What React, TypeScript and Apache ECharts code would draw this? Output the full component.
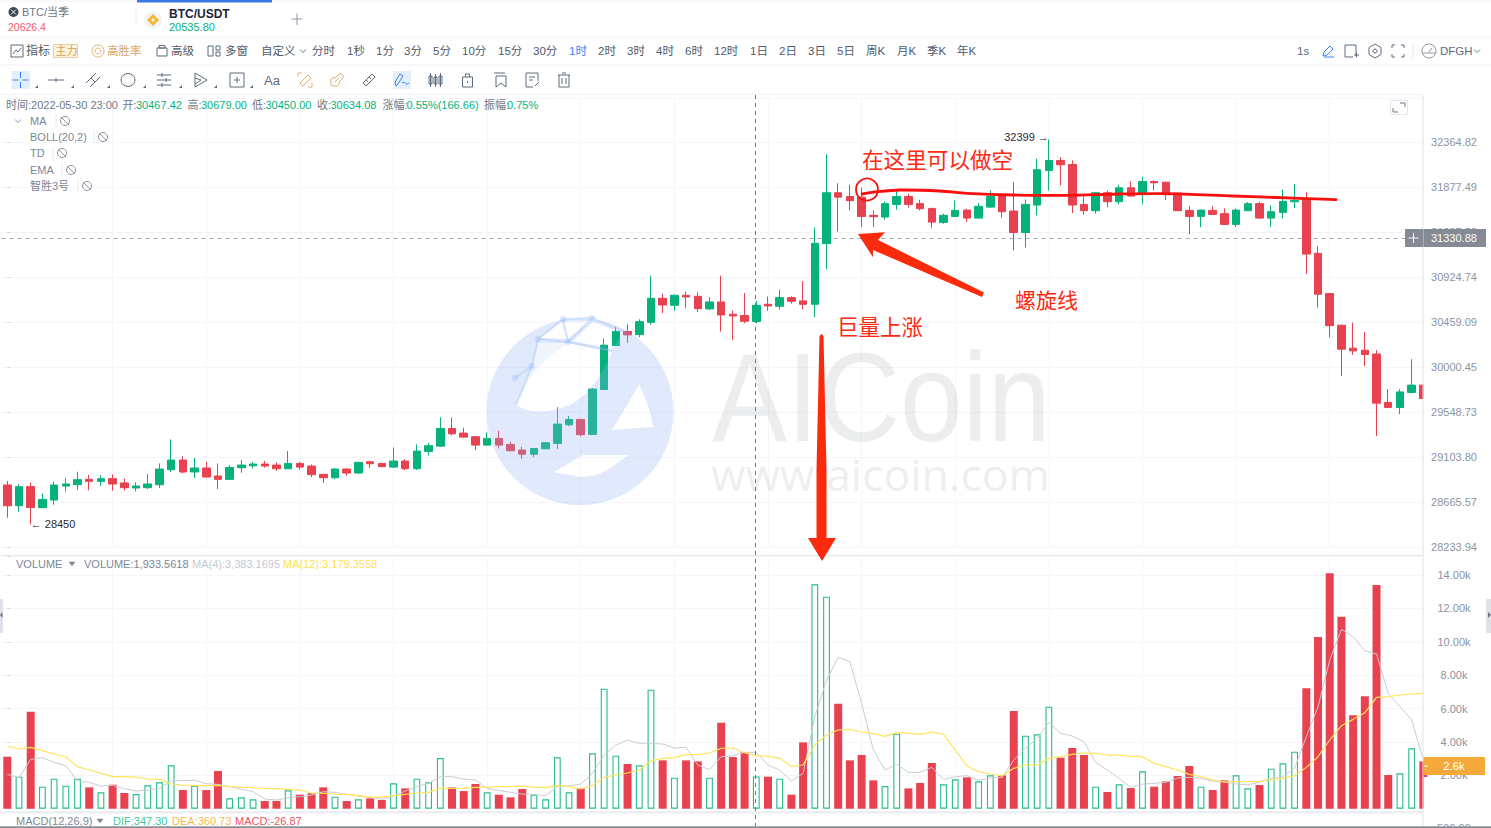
import React, { useEffect, useRef } from "react";
import * as echarts from "echarts";

const opens = [
  28831,28630,28815,28611,28685,28821,28834,28886,28867,28893,
  28851,28802,28805,28834,28980,29075,28958,28997,28919,28886,
  29000,29019,29036,29026,28990,29042,29016,28935,28902,28987,
  28948,29058,29042,29006,29065,28990,29160,29212,29387,29341,
  29305,29222,29288,29229,29173,29133,29186,29239,29423,29476,
  29328,29776,30221,30364,30333,30459,30707,30635,30738,30728,
  30597,30669,30542,30528,30467.42,30645,30625,30714,30680,30645,
  31279,31821,31781,31774,31579,31561,31696,31781,31704,31653,
  31504,31568,31635,31550,31667,31785,31625,31397,31689,32062,
  32170,32126,31696,31629,31821,31725,31874,31803,31942,31935,
  31817,31632,31568,31632,31597,31483,31629,31704,31550,31611,
  31725,31757,31177,30756,30429,30194,30174,30135,29646,29596,
  29746,29820,
];
const closes = [
  28630,28815,28614,28691,28831,28841,28883,28867,28893,28841,
  28805,28821,28841,28987,29075,28958,28997,28909,28886,29003,
  29026,29036,29016,28990,29042,29006,28932,28902,28987,28948,
  29052,29039,29010,29065,28990,29163,29216,29387,29334,29301,
  29222,29288,29222,29166,29133,29189,29245,29430,29476,29325,
  29780,30225,30364,30330,30466,30707,30638,30738,30721,30600,
  30669,30535,30525,30470,30634.08,30628,30714,30676,30645,31282,
  31821,31774,31736,31568,31565,31704,31781,31696,31650,31507,
  31579,31632,31550,31675,31781,31618,31397,31696,32069,32170,
  32123,31689,31629,31821,31725,31874,31785,31942,31928,31800,
  31629,31568,31635,31589,31483,31635,31704,31550,31618,31728,
  31739,31169,30749,30425,30184,30167,30130,29639,29596,29752,
  29820,29686,
];
const lows = [
  28515,28570,28450,28608,28640,28766,28786,28779,28824,28776,
  28776,28769,28792,28802,28958,28945,28899,28905,28792,28880,
  28951,28993,29000,28967,28987,28980,28909,28851,28889,28922,
  28938,28997,29006,28997,28977,28977,29120,29206,29318,29295,
  29173,29219,29189,29163,29088,29104,29183,29186,29410,29308,
  29325,29773,30218,30248,30306,30432,30555,30580,30604,30566,
  30587,30364,30279,30449,30450,30576,30590,30652,30594,30511,
  31009,31408,31632,31454,31454,31533,31640,31661,31632,31447,
  31490,31560,31507,31547,31660,31554,31208,31237,31579,31845,
  31899,31603,31586,31597,31667,31696,31780,31699,31845,31742,
  31625,31380,31454,31582,31480,31454,31625,31547,31454,31544,
  31657,30963,30611,30303,29910,30126,30011,29311,29589,29529,
  29736,29680,
];
const highs = [
  28870,28838,28854,28750,28864,28899,28961,28928,28928,28935,
  28893,28857,28938,29042,29278,29113,29097,29058,29042,29026,
  29075,29058,29068,29052,29163,29058,29032,28938,28993,28993,
  29058,29068,29049,29199,29084,29229,29245,29496,29496,29394,
  29311,29348,29364,29255,29206,29193,29252,29599,29512,29483,
  29790,30293,30412,30439,30490,30942,30756,30749,30776,30769,
  30718,30942,30580,30762,30679,30725,30797,30728,30887,31451,
  32235,31924,31907,31874,31632,31728,31838,31810,31746,31660,
  31597,31739,31650,31710,31845,31790,31935,31749,32188,32399,
  32206,32170,31781,31827,31845,31907,31946,31993,31953,31938,
  31824,31678,31640,31678,31653,31653,31721,31725,31685,31856,
  31917,31827,31250,30762,30436,30456,30360,30174,29780,29780,
  30082,29825,
];
const volumes = [
  3115,1917,5811,1318,1797,1378,1797,1278,979,1438,
  939,879,1398,1578,2596,1118,1378,1118,2257,619,
  679,559,459,459,1098,839,919,1278,719,459,
  559,619,519,1518,1218,1797,1578,3035,1278,1058,
  1478,979,839,679,1178,839,559,3075,979,1218,
  3315,7189,3175,2676,2596,7129,2896,1857,2896,2836,
  1857,5152,3095,3375,1933.56,1917,1797,839,3974,13440,
  12701,6291,2896,3215,1697,1358,4493,1218,1538,2736,
  1458,1757,1877,1638,1997,1997,5851,4373,4453,6111,
  3055,3635,3215,1318,999,1458,1238,2237,1318,1638,
  1957,2556,1318,1118,1697,1997,1218,1418,2396,2716,
  3415,7209,10285,14099,11503,5592,6730,13400,2017,2117,
  3615,2836,
];
const volumeMa4 = [
  2057,1857,2956,3055,2776,2576,1658,1578,1358,1398,
  1198,1058,1118,1218,1658,1698,1698,1498,1458,1318,
  1178,1019,579,519,659,719,819,1019,979,859,
  759,679,559,759,1058,1318,1518,1917,1917,1777,
  1717,1218,1098,979,879,859,779,1358,1358,1478,
  2117,3215,3814,4114,3914,3914,3874,3635,3675,2616,
  2336,3115,3175,3375,3383.17,2616,2316,1657,2117,5512,
  7708,9066,8807,6311,3515,2316,2656,2177,2177,2476,
  1757,1917,1977,1697,1837,1877,2916,3615,4214,5172,
  4513,4353,4014,2776,2316,1817,1278,1478,1518,1578,
  1837,1877,1817,1658,1598,1478,1438,1578,1817,1917,
  2416,4313,6111,8907,10744,10305,9466,9266,6910,6111,
  5312,2916,
];
const volumeMa12 = [
  3754,3575,3675,3475,3275,3095,2516,2316,2117,1917,
  1917,1897,1777,1757,1478,1418,1398,1378,1398,1338,
  1298,1258,1218,1198,1158,1118,939,919,879,859,
  779,699,699,779,859,939,979,1218,1218,1238,
  1278,1298,1318,1318,1358,1298,1258,1378,1318,1178,
  1378,1877,2017,2137,2316,2876,3015,3055,3235,3235,
  3335,3615,3635,3355,3179.36,3135,3015,2536,2616,3814,
  4413,4713,4753,4593,4493,4333,4553,4513,4453,4593,
  4453,3515,2556,2217,2077,1957,2416,2616,2616,3015,
  3115,3255,3335,3315,3215,3215,3155,3115,2716,2516,
  2317,2057,1917,1717,1598,1618,1618,1638,1757,1817,
  1977,2476,3115,4114,4973,5352,5751,6670,6710,6810,
  6870,6910,
];
const priceTicks = ["28233.94","28665.57","29103.80","29548.73","30000.45","30459.09","30924.74","31397.50","31877.49","32364.82"];
const gridIndexes = [9,17,25,33,41,49,57,65,73,81,89,97,105,113,121];
const crosshairPrice = 31330.88;
const highMark = { index: 89, price: 32399 };
const lowMark = { index: 2, price: 28450 };
const periods: [string, number][] = [["分时",312],["1秒",347],["1分",376],["3分",404],["5分",433],["10分",462],["15分",498],["30分",533],["2时",598],["3时",627],["4时",656],["6时",685],["12时",714],["1日",750],["2日",779],["3日",808],["5日",837],["周K",866],["月K",897],["季K",927],["年K",957]];

const GREEN = "#05b27c";
const RED = "#e8414f";
const ANNOT = "#fb2a12";
const FONT = '"Liberation Sans","Noto Sans CJK SC",sans-serif';
const LOG_MIN = 28233.94;
const LOG_BASE = Math.exp(Math.log(LOG_MIN) / 675);
const LOG_MAX = LOG_MIN * Math.pow(LOG_BASE, 9.99);
const LOGO_BLUE = "rgba(140,178,245,0.27)";

const iconPaths: Record<string, string> = {
  lineBox: "M-6 -6H6V6H-6Z M-4 3L-1 -1L1 1L4 -3",
  gauge: "M0 -6A6 6 0 1 1 -0.01 -6Z M0 -3A3 3 0 1 1 -0.01 -3Z",
  adv: "M-5 -3H5V5H-5Z M-3 -5.5H3V-3H-3Z",
  windows: "M-6 -5H-1V5H-6Z M2 -5H6V-1H2Z M2 1H6V5H2Z",
  pencil: "M-5 5L-4 1L2 -5L5 -2L-1 4Z M-4 6H6",
  frame: "M-6 -6H5V5 M-6 -6V6 M2 6H-6 M3 4H8 M5.5 1.5V6.5",
  hex: "M0 -7L6 -3.5V3.5L0 7L-6 3.5V-3.5Z M0 -2A2 2 0 1 1 -0.01 -2Z",
  expand: "M-6 -3V-6H-3 M3 -6H6V-3 M6 3V6H3 M-3 6H-6V3",
  cloud: "M0 -7A7 7 0 1 1 -0.01 -7Z M-6 2H6 M0 1L3 -3",
  cross: "M0 -8V-2 M0 2V8 M-8 0H-2 M2 0H8",
  hline: "M-8 0H8 M0 -2V2",
  slash: "M-7 3L3 -7 M-3 7L7 -3 M-2 -2L2 2",
  ellipse: "M-7 0A7 6.5 0 1 1 7 0A7 6.5 0 1 1 -7 0Z",
  tri: "M-7 -5H7 M-7 0H7 M-7 5H7 M-2 -7V-3 M2 -2V2 M-2 3V7",
  play: "M-6 -7L6 0L-6 7Z M-6 -2L0 0L-6 4",
  boxPlus: "M-7 -7H7V7H-7Z M-3 0H3 M0 -3V3",
  ruler1: "M-5 3L3 -5L6 -2L-2 6Z M-7 -7H-3 M-7 -7V-3 M7 7H3 M7 7V3",
  ruler2: "M-6 2A3 3 0 0 1 -2 -2L2 -6A3 3 0 0 1 6 -2L2 2A3 3 0 0 1 -2 6A3 3 0 0 1 -6 2Z M-2 2L2 -2",
  ruler3: "M-6 3L3 -6L6 -3L-3 6Z M-3 0L-1 2 M0 -3L2 -1",
  draw: "M-6 6L-7 2L-2 -6L1 -4L-4 4Z M0 3C3 0 3 6 7 3",
  candles: "M-6 -4H-3V4H-6Z M-4.5 -7V7 M-1 -3H2V4H-1Z M0.5 -6V7 M4 -4H7V4H4Z M5.5 -7V7",
  lock: "M-5 -3H5V7H-5Z M-2 -3V-6H2V-3 M0 1V3",
  marks: "M-6 -7H5 M-4 -4H6V7L1 3L-4 7Z",
  edit: "M-6 -7H6V1 M-6 -7V7H1 M-3 -3H3 M-3 0H1 M3 6L7 2",
  trash: "M-6 -5H6 M-2 -7H2 M-5 -5V7H5V-5 M-2 -2V4 M2 -2V4",
};
Object.keys(iconPaths).forEach((k) => echarts.graphic.registerShape("ic_" + k, echarts.graphic.extendPath(iconPaths[k], {})));

const LOGO =
  "M486.5 411.7A93.5 93.5 0 1 1 673.5 411.7A93.5 93.5 0 1 1 486.5 411.7Z" +
  "M538 343L532 367L516 405Q536 418 570 405Q595 392 612 352L568 343Z" +
  "M561.7 321.7L540 338L567 339Z" +
  "M563 322L568 339L590 321Z" +
  "M593 322L573 341L612 349L623 333Z" +
  "M639 385L612 430L653 427Q650 405 639 385Z" +
  "M554 472L580 477Q595 477 607 470L629 455L583 455Z";
echarts.graphic.registerShape("aicoinLogo", echarts.graphic.extendPath(LOGO, {}));

function T(x: number, y: number, text: string, fill: string, size = 11.5, extra: any = {}) {
  const { z, scaleX, ...style } = extra;
  return {
    type: "text", x, y, silent: true, z: z ?? 60, scaleX: scaleX ?? 1,
    style: { text, fill, fontSize: size, fontFamily: FONT, verticalAlign: "middle", align: "left", ...style },
  };
}
function I(name: string, x: number, y: number, stroke = "#5f6b7d", scale = 1) {
  return { type: "ic_" + name, x, y, scaleX: scale, scaleY: scale, silent: true, z: 60, style: { stroke, fill: "none", lineWidth: 1 } };
}
function R(x: number, y: number, w: number, h: number, fill: string, z = 60, stroke?: string) {
  return { type: "rect", silent: true, z, shape: { x, y, width: w, height: h }, style: { fill, stroke: stroke ?? "none" } };
}
function L(x1: number, y1: number, x2: number, y2: number, stroke: string, lineWidth = 1, z = 60, lineDash?: number[]) {
  return { type: "line", silent: true, z, shape: { x1, y1, x2, y2 }, style: { stroke, lineWidth, lineDash } };
}
function Tri(cx: number, cy: number, s: number, fill: string) {
  return { type: "polygon", silent: true, z: 60, shape: { points: [[cx - s, cy - s / 2], [cx + s, cy - s / 2], [cx, cy + s / 2 + 1]] }, style: { fill } };
}
function Chev(cx: number, cy: number, stroke = "#6b7585") {
  return { type: "polyline", silent: true, z: 60, shape: { points: [[cx - 3, cy - 1.5], [cx, cy + 1.5], [cx + 3, cy - 1.5]] }, style: { stroke, fill: "none", lineWidth: 1 } };
}
function Corner(x: number) {
  return { type: "polygon", silent: true, z: 60, shape: { points: [[x + 3, 85], [x + 3, 88], [x, 88]] }, style: { fill: "#5f6b7d" } };
}
function Net(points: number[][]) {
  return { type: "polyline", silent: true, z: 50, shape: { points }, style: { stroke: LOGO_BLUE, lineWidth: 2.2, fill: "none" } };
}
function Node(cx: number, cy: number) {
  return { type: "circle", silent: true, z: 50, shape: { cx, cy, r: 3.4 }, style: { fill: LOGO_BLUE } };
}

function buildGraphics(): any[] {
  const SEP = "#f1f2f7";
  const G: any[] = [];
  G.push(
    L(0, 1, 1491, 1, SEP, 1), L(0, 37, 1491, 37, SEP, 1.2), L(0, 65, 1491, 65, SEP, 1.2), L(0, 94.5, 1423, 94.5, SEP, 1.2),
    L(0, 555.5, 1423, 555.5, "#e6e8ed", 1), L(1423, 95, 1423, 828, "#dfe2e8", 1), R(0, 811, 1423, 2.4, "#eceef2"),
    R(0, 826.2, 1491, 1.8, "#8a8f99"), R(1486, 599, 5, 34, "#dfe2e8"), R(0, 599, 3, 34, "#dfe2e8"),
    { type: "polygon", silent: true, z: 61, shape: { points: [[1488, 612], [1491, 615], [1488, 618]] }, style: { fill: "#6b7585" } },
    { type: "polygon", silent: true, z: 61, shape: { points: [[2.5, 612], [0, 615], [2.5, 618]] }, style: { fill: "#6b7585" } },
    R(137, 0, 135, 2.4, "#3b78e7"), L(136, 10, 136, 24, "#e8eaee", 1),
    // the last candle and bar are cut by the pane's right edge
    R(1423.6, 380, 6, 22, "#fff", 30), R(1423.6, 777, 6, 33, "#fff", 30),
  );
  // tabs
  G.push(
    { type: "circle", silent: true, z: 60, shape: { cx: 13.5, cy: 12, r: 5 }, style: { fill: "#3e4654" } },
    L(11, 9.5, 16, 14.5, "#fff", 1), L(16, 9.5, 11, 14.5, "#fff", 1),
    T(22, 12, "BTC/当季", "#6d7787", 11), T(8, 27, "20626.4", "#f4606c", 10.5),
    { type: "circle", silent: true, z: 60, shape: { cx: 153, cy: 20, r: 9 }, style: { fill: "#f2f3f6" } },
    { type: "polygon", silent: true, z: 60, shape: { points: [[153, 14], [159, 20], [153, 26], [147, 20]] }, style: { fill: "#f3ba2f" } },
    { type: "polygon", silent: true, z: 61, shape: { points: [[153, 18], [155, 20], [153, 22], [151, 20]] }, style: { fill: "#f2f3f6" } },
    T(169, 14, "BTC/USDT", "#1c2536", 12, { fontWeight: 600 }), T(169, 27, "20535.80", GREEN, 11),
    L(297, 13.5, 297, 25, "#8d95a3", 1), L(291.5, 19, 302.5, 19, "#8d95a3", 1),
  );
  // toolbar row 1
  G.push(
    I("lineBox", 17, 51), T(26, 51, "指标", "#4f5a6b", 12),
    R(53.5, 44.5, 24, 13, "#fdf3e3", 60, "#eccc9c"), T(55.5, 51, "主力", "#e0a24e", 11),
    I("gauge", 98, 51, "#e3b679"), T(107, 51, "高胜率", "#d9a45f", 11.5),
    I("adv", 162, 51), T(171, 51, "高级", "#4f5a6b", 11.5),
    I("windows", 214, 51), T(225, 51, "多窗", "#4f5a6b", 11.5),
    T(261, 51, "自定义", "#4f5a6b", 11.5), Chev(303, 51),
    T(569, 51, "1时", "#3b82f6", 11.5),
    T(1297, 51, "1s", "#5f6b7d", 11.5),
    I("pencil", 1328, 51, "#3b82f6"), I("frame", 1351, 51), I("hex", 1375, 51), I("expand", 1398, 51),
    L(1413, 44, 1413, 58, "#e6e8ed", 1), I("cloud", 1429, 51, "#8d95a3"), T(1440, 51, "DFGH", "#5f6b7d", 11.5), Chev(1477, 51),
  );
  periods.forEach(([t, x]) => G.push(T(x, 51, t, "#4f5a6b", 11.5)));
  // toolbar row 2
  G.push(R(11.5, 71, 18.5, 18, "#e3effd"), R(393, 71, 18, 18, "#e3effd"));
  G.push(
    I("cross", 20.5, 80, "#3b82f6"), I("hline", 56, 80), I("slash", 93, 80), I("ellipse", 128, 80), I("tri", 164, 80),
    I("play", 201, 80), I("boxPlus", 237, 80), T(264, 80, "Aa", "#5f6b7d", 13),
    I("ruler1", 305, 80, "#e0b070"), I("ruler2", 337, 80, "#e0b070"), I("ruler3", 369, 80), I("draw", 402, 80, "#3b82f6"),
    I("candles", 435, 80), I("lock", 467.5, 80), I("marks", 500, 80), I("edit", 532, 80), I("trash", 564, 80),
    Corner(35), Corner(71), Corner(107), Corner(143), Corner(179), Corner(214), Corner(250),
  );
  // info row
  const grey = "#6d7787";
  G.push(
    T(6, 105, "时间:2022-05-30 23:00", grey, 11), T(122.5, 105, "开:", grey, 11), T(136, 105, "30467.42", GREEN, 11),
    T(187.5, 105, "高:", grey, 11), T(201, 105, "30679.00", GREEN, 11), T(252, 105, "低:", grey, 11), T(265.5, 105, "30450.00", GREEN, 11),
    T(317, 105, "收:", grey, 11), T(330.5, 105, "30634.08", GREEN, 11), T(382.5, 105, "涨幅:", grey, 11), T(406.5, 105, "0.55%(166.66)", GREEN, 11),
    T(484, 105, "振幅:", grey, 11), T(507, 105, "0.75%", GREEN, 11),
  );
  G.push(Chev(18, 121, "#8d95a3"));
  const indicators: [string, number, number, number][] = [["MA", 30, 121, 65], ["BOLL(20,2)", 30, 137, 103], ["TD", 30, 153, 62], ["EMA", 30, 170, 71], ["智胜3号", 30, 186, 87]];
  indicators.forEach(([t, x, y, ex]) => {
    G.push(T(x, y, t, "#7d8695", 11, { z: 60 }), L(ex - 9, y - 6, ex - 9, y + 6, "#e6e8ed", 1));
    G.push({ type: "circle", silent: true, z: 60, shape: { cx: ex, cy: y, r: 4.5 }, style: { stroke: "#8d95a3", fill: "none", lineWidth: 1 } }, L(ex - 4, y - 4, ex + 4, y + 4, "#8d95a3", 1));
  });
  // expand button
  G.push(R(1390.5, 100.5, 17, 14, "#fff", 60, "#e4e6ec"), L(1400, 103, 1405, 103, "#6b7585"), L(1405, 103, 1405, 107, "#6b7585"), L(1393, 108, 1393, 112, "#6b7585"), L(1393, 112, 1398, 112, "#6b7585"));
  // volume & macd legends
  G.push(
    T(16, 564, "VOLUME", "#7d8695", 11), Tri(72, 563.5, 3.5, "#7d8695"),
    T(84, 564, "VOLUME:1,933.5618", "#7d8695", 11), T(192, 564, "MA(4):3,383.1695", "#c5c9d3", 11), T(283, 564, "MA(12):3,179.3558", "#ffdf4d", 11),
    T(16, 821, "MACD(12,26,9)", "#7d8695", 11), Tri(100, 820.5, 3.5, "#7d8695"),
    T(113, 821, "DIF:347.30", "#3ec79a", 11), T(172, 821, "DEA:360.73", "#f5b94a", 11), T(235, 821, "MACD:-26.87", "#ea5661", 11),
    T(1437, 828, "500.00", "#8b94a3", 11),
  );
  // crosshair + tags
  G.push(L(755.5, 95, 755.5, 826, "#6f7580", 1, 40, [4, 4]));
  G.push(
    R(1405, 229, 81, 18, "#858a94"), L(1423.5, 229, 1423.5, 247, "#ffffff55", 1), L(1413.5, 233, 1413.5, 243, "#fff", 1), L(1408.5, 238, 1418.5, 238, "#fff", 1),
    T(1431, 238, "31330.88", "#fff", 11),
    R(1423.5, 757, 61.5, 18, "#f5a93b"), T(1454, 766, "2.6k", "#fff", 11.5, { align: "center" }), L(1424, 766, 1428, 766, "#fff", 1),
  );
  // watermark (sits above the marks, translucent)
  G.push(
    { type: "aicoinLogo", silent: true, z: 50, style: { fill: LOGO_BLUE } },
    { type: "polygon", silent: true, z: 50, shape: { points: [[538, 343], [532, 367], [516, 405], [530, 378], [545, 360], [568, 343]] }, style: { fill: "rgba(140,178,245,0.12)" } },
    Net([[515, 378], [532, 366], [538, 339], [568, 342], [592, 318], [563, 319], [538, 339]]),
    Net([[563, 319], [568, 342], [612, 351]]),
    Net([[592, 318], [625, 332]]),
    Net([[532, 366], [516, 405]]),
    Node(563, 319), Node(592, 318), Node(568, 342), Node(538, 339), Node(532, 366), Node(515, 378),
    T(712, 397, "AICoin", "rgba(120,124,132,0.14)", 126, { z: 50, scaleX: 0.895 }),
    T(711, 473, "www.aicoin.com", "rgba(120,124,132,0.14)", 44.5, { z: 50, fontFamily: '"Open Sans","Liberation Sans",sans-serif' }),
  );
  // hand-drawn annotations
  G.push(
    { type: "polyline", silent: true, z: 70, shape: { smooth: 0.3, points: [[862, 194], [878, 191.7], [900, 190], [940, 191], [967, 193.3], [1013, 195], [1067, 195.3], [1120, 194], [1167, 193.7], [1233, 196], [1300, 198.3], [1336, 199.7]] }, style: { stroke: "#fa0f0f", lineWidth: 2.8, fill: "none", lineCap: "round" } },
    { type: "circle", silent: true, z: 70, shape: { cx: 867, cy: 189.5, r: 11 }, style: { stroke: "#fa0f0f", fill: "none", lineWidth: 1.8 } },
    { type: "polygon", silent: true, z: 70, shape: { points: [[858, 234], [885, 232.3], [878, 240], [984, 292.5], [982, 297], [873, 250], [873, 257.3]] }, style: { fill: "#fb2a0d" } },
    { type: "polygon", silent: true, z: 70, shape: { points: [[819.5, 336], [821.5, 334], [823.5, 336], [826.5, 470], [826.5, 538], [836, 538], [822, 561], [808, 538], [816.5, 538], [816.5, 470]] }, style: { fill: "#fb2a0d" } },
    T(862, 160, "在这里可以做空", ANNOT, 21.6, { z: 70 }), T(1015, 300, "螺旋线", ANNOT, 21, { z: 70 }), T(837, 328, "巨量上涨", ANNOT, 21.5, { z: 70 }),
  );
  return G;
}

const hiddenX = (gridIndex: number, split: boolean) => ({
  type: "value", gridIndex, min: -0.5, max: 120.97, scale: true,
  axisLine: { show: false }, axisLabel: { show: false },
  axisTick: { show: false, customValues: gridIndexes },
  splitLine: { show: split, lineStyle: { color: "#f5f6f9", width: 1 } },
});

export default function App() {
  const ref = useRef<HTMLDivElement>(null);
  useEffect(() => {
    document.body.style.margin = "0";
    const chart = echarts.init(ref.current!, undefined, { renderer: "svg" });
    const idx = (arr: number[]) => arr.map((v, i) => [i, v]);
    const isUp = (i: number) => closes[i] >= opens[i];
    chart.setOption({
      animation: false,
      backgroundColor: "#fff",
      grid: [
        { left: 1.45, right: 68, top: 97.75, height: 449.25 },
        { left: 1.45, right: 68, top: 556, bottom: 19.3 },
      ],
      xAxis: [hiddenX(0, true), hiddenX(1, true), hiddenX(1, false)],
      yAxis: [
        {
          type: "log", logBase: LOG_BASE, gridIndex: 0, position: "right", min: LOG_MIN, max: LOG_MAX, splitNumber: 10,
          axisLine: { show: false }, axisTick: { show: true, length: 3, lineStyle: { color: "#d5d8df" } },
          splitLine: { show: true, lineStyle: { color: "#f5f6f9" } },
          axisLabel: {
            color: "#8b94a3", fontSize: 11, fontFamily: FONT, margin: 31, align: "center", showMinLabel: true, showMaxLabel: false,
            formatter: (v: number) => {
              const k = Math.round(Math.log(v / LOG_MIN) / Math.log(LOG_BASE));
              return k >= 0 && k < priceTicks.length ? priceTicks[k] : "";
            },
          },
        },
        {
          type: "value", gridIndex: 1, position: "right", min: 0, max: 15137, interval: 2000,
          axisLine: { show: false }, axisTick: { show: true, length: 3, lineStyle: { color: "#d5d8df" } },
          splitLine: { show: true, lineStyle: { color: "#f5f6f9" } },
          axisLabel: {
            color: "#8b94a3", fontSize: 11, fontFamily: FONT, margin: 31, align: "center", showMinLabel: false,
            formatter: (v: number) => (v === 0 || v > 14000 ? "" : (v / 1000).toFixed(2) + "k"),
          },
        },
      ],
      series: [
        {
          type: "candlestick", xAxisIndex: 0, yAxisIndex: 0, barWidth: 8, z: 5,
          encode: { x: 0, y: [1, 2, 3, 4] },
          itemStyle: { color: GREEN, color0: RED, borderColor: GREEN, borderColor0: RED, borderWidth: 1 },
          data: opens.map((o, i) => [i, o, closes[i], lows[i], highs[i]]),
          markLine: {
            silent: true, symbol: "none", animation: false, label: { show: false },
            lineStyle: { color: "#a4a9b3", type: [4, 4], width: 1 },
            data: [{ yAxis: crosshairPrice }],
          },
          markPoint: {
            silent: true, symbol: "circle", symbolSize: 0, animation: false,
            data: [
              { coord: [highMark.index, highMark.price], label: { show: true, position: "left", distance: 3, offset: [3, -2], formatter: highMark.price + " →", color: "#1f2937", fontSize: 11, fontFamily: FONT } },
              { coord: [lowMark.index, lowMark.price], label: { show: true, position: "right", distance: 3, offset: [-3, 0], formatter: "← " + lowMark.price, color: "#1f2937", fontSize: 11, fontFamily: FONT } },
            ],
          },
        },
        {
          type: "bar", xAxisIndex: 1, yAxisIndex: 1, barWidth: 8, z: 3,
          itemStyle: { color: RED },
          data: volumes.map((v, i) => [i, isUp(i) ? null : v]),
        },
        {
          type: "bar", xAxisIndex: 2, yAxisIndex: 1, barWidth: 6.8, z: 3,
          itemStyle: { color: "#fff", borderColor: "#27bb8d", borderWidth: 1.1 },
          data: volumes.map((v, i) => [i, isUp(i) ? v : null]),
        },
        {
          type: "line", xAxisIndex: 1, yAxisIndex: 1, showSymbol: false, symbol: "none", z: 6,
          lineStyle: { color: "#c9ccd5", width: 1 }, data: idx(volumeMa4),
        },
        {
          type: "line", xAxisIndex: 1, yAxisIndex: 1, showSymbol: false, symbol: "none", z: 6,
          lineStyle: { color: "#ffe45c", width: 1.2 }, data: idx(volumeMa12),
        },
      ],
      graphic: { elements: buildGraphics() },
    });
    return () => chart.dispose();
  }, []);
  return <div ref={ref} style={{ width: 1491, height: 828 }} />;
}
